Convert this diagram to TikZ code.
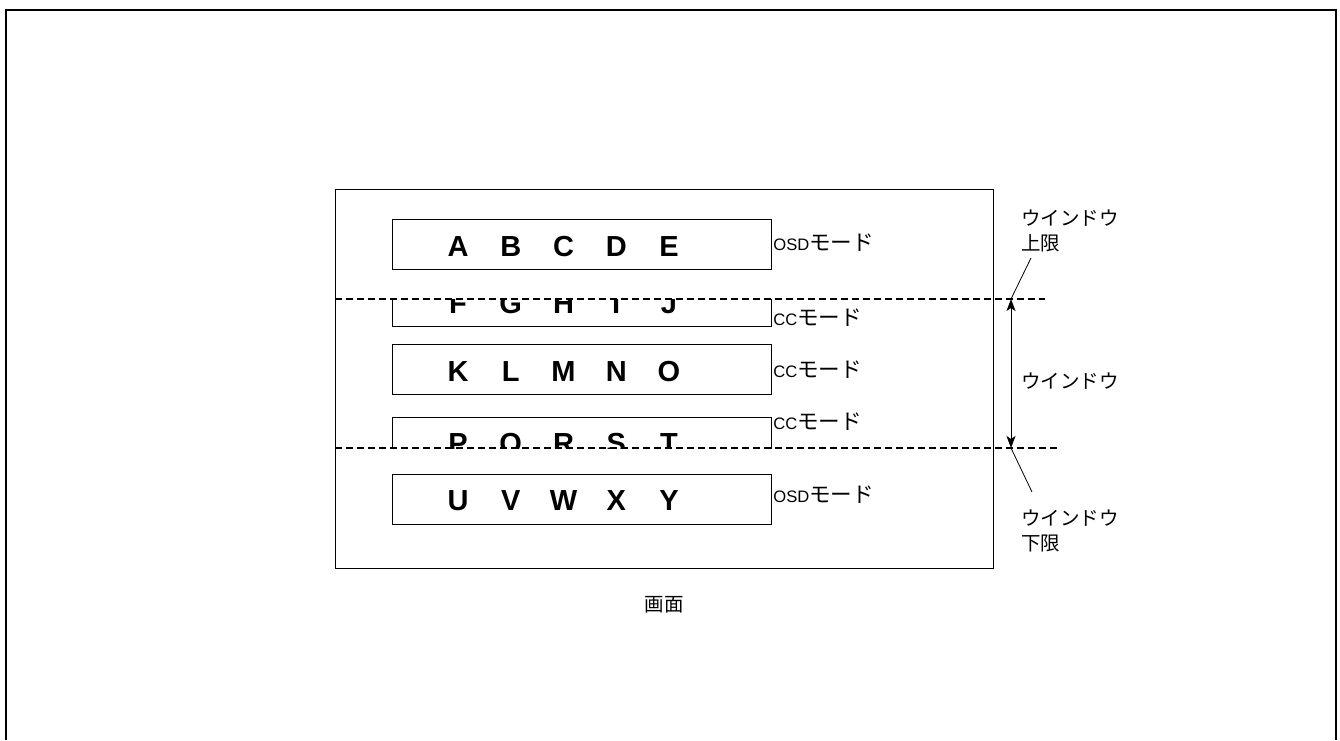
\documentclass[tikz,border=0pt]{standalone}
\usepackage{fontspec}
\setmainfont{Liberation Sans}
\newfontfamily\jp[Scale=1.3]{Noto Sans CJK JP}
\usetikzlibrary{arrows.meta}

\tikzset{
  rowbox/.style={draw, line width=0.5pt, minimum width=189.5pt, minimum height=25pt, inner sep=0pt},
  letter/.style={font=\fontsize{14.5}{16}\selectfont\bfseries, inner sep=0pt, text height=10.4pt, text depth=0pt},
  modelabel/.style={font=\fontsize{8.3}{10}\selectfont, inner sep=0pt, anchor=base west},
  jplabel/.style={font=\fontsize{7.5}{12.5}\selectfont\jp, inner sep=0pt, align=left},
  winline/.style={dash pattern=on 3.5pt off 2pt, line width=0.8pt},
  leader/.style={line width=0.4pt},
}

\begin{document}
\begin{tikzpicture}[x=0.5pt, y=-0.5pt]
  \useasboundingbox (0,0) rectangle (1340,740);
  \draw[line width=1pt] (6,740) -- (6,10) -- (1336,10) -- (1336,740);

  % screen
  \node[draw, line width=0.5pt, minimum width=329pt, minimum height=189.5pt, inner sep=0pt] (screen) at (664,378.5) {};
  \node[jplabel, anchor=base] (screenlbl) at (664,611) {画面};

  % rows
  \node[rowbox] (row1) at (581.5,244) {};
  \foreach \l [count=\i] in {A,B,C,D,E}
    \node[letter] (\l) at ({458+52.75*(\i-1)},246) {\l};
  \begin{scope}
    \clip (335,299) rectangle (993,568);
    \node[rowbox] (row2) at (581.5,301) {};
    \foreach \l [count=\i] in {F,G,H,I,J}
      \node[letter] (\l) at ({458+52.75*(\i-1)},303) {\l};
  \end{scope}
  \node[rowbox] (row3) at (581.5,369) {};
  \foreach \l [count=\i] in {K,L,M,N,O}
    \node[letter] (\l) at ({458+52.75*(\i-1)},371) {\l};
  \begin{scope}
    \clip (335,189) rectangle (993,448);
    \node[rowbox] (row4) at (581.5,442) {};
    \foreach \l [count=\i] in {P,Q,R,S,T}
      \node[letter] (\l) at ({458+52.75*(\i-1)},443) {\l};
  \end{scope}
  \node[rowbox] (row5) at (581.5,499) {};
  \foreach \l [count=\i] in {U,V,W,X,Y}
    \node[letter] (\l) at ({458+52.75*(\i-1)},500) {\l};

  % mode labels
  \node[modelabel] (mode1) at (773,250) {OSD{\jp モード}};
  \node[modelabel] (mode2) at (773,325) {CC{\jp モード}};
  \node[modelabel] (mode3) at (773,377) {CC{\jp モード}};
  \node[modelabel] (mode4) at (773,429) {CC{\jp モード}};
  \node[modelabel] (mode5) at (773,502) {OSD{\jp モード}};

  % window limits
  \coordinate (upL) at (335,299);
  \coordinate (upR) at (1045,299);
  \coordinate (loL) at (335,448);
  \coordinate (loR) at (1057,448);
  \coordinate (upA) at (1011,299);
  \coordinate (loA) at (1011,448);
  \coordinate (upT) at (1031,258);
  \coordinate (loT) at (1032,492);
  \draw[winline] (upL) -- (upR);
  \draw[winline] (loL) -- (loR);
  \draw[line width=0.5pt, {Stealth[length=6pt,width=4.5pt,inset=1.5pt]}-{Stealth[length=6pt,width=4.5pt,inset=1.5pt]}] (upA) -- (loA);
  \draw[leader] (upA) -- (upT);
  \draw[leader] (loA) -- (loT);
  \node[jplabel, anchor=north west] (uplim) at (1021,209) {ウインドウ\\上限};
  \node[jplabel, anchor=base west] (window) at (1021,388) {ウインドウ};
  \node[jplabel, anchor=north west] (lolim) at (1021,509) {ウインドウ\\下限};
\end{tikzpicture}
\end{document}
